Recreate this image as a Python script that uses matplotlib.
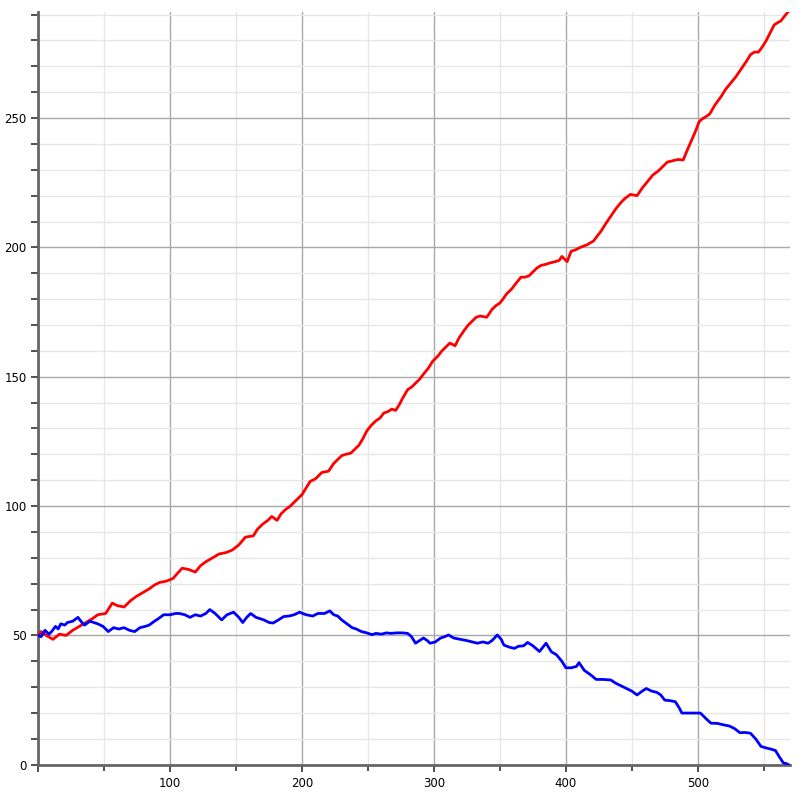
import matplotlib
matplotlib.use("Agg")
import matplotlib.pyplot as plt
from matplotlib.ticker import MultipleLocator

# red series
red_x = [0, 2, 6, 11, 16, 21, 26, 31, 36, 41, 45, 51, 56, 60, 65, 70, 74, 79, 84, 88,
         92, 97, 102, 109, 114, 119, 123, 127, 132, 137, 142, 147, 152, 157, 163, 166,
         170, 174, 177, 181, 184, 187, 191, 195, 200, 203, 206, 210, 215, 220, 224, 227,
         230, 233, 237, 240, 243, 246, 249, 252, 256, 259, 262, 265, 268, 271, 274, 276,
         280, 283, 286, 289, 292, 296, 299, 303, 306, 309, 312, 316, 319, 323, 326, 329,
         332, 335, 340, 344, 347, 350, 353, 355, 359, 362, 366, 369, 372, 375, 378, 381,
         385, 388, 392, 395, 397, 401, 404, 407, 411, 416, 421, 424, 427, 430, 434, 438,
         442, 445, 449, 454, 458, 462, 466, 470, 474, 477, 481, 485, 489, 492, 495, 498,
         501, 503, 506, 509, 513, 518, 521, 525, 529, 533, 537, 540, 543, 546, 549, 552,
         555, 558, 561, 563, 566, 570]
red_y = [50, 51.5, 50, 48.5, 50.5, 50, 52, 53.5, 55, 56.5, 58, 58.5, 62.5, 61.5, 61, 63.5,
         65, 66.5, 68, 69.5, 70.5, 71, 72, 76, 75.5, 74.5, 77, 78.5, 80, 81.5, 82, 83, 85,
         88, 88.5, 91, 93, 94.5, 96, 94.5, 97, 98.5, 100, 102, 104.5, 107, 109.5, 110.5,
         113, 113.5, 116.5, 118, 119.5, 120, 120.5, 122, 123.5, 126, 129, 131, 133, 134,
         136, 136.5, 137.5, 137, 139.5, 141.5, 145, 146, 147.5, 149, 151, 153.5, 156, 158,
         160, 161.5, 163, 162, 165, 168, 170, 171.5, 173, 173.5, 173, 176, 177.5, 178.5,
         180.5, 182, 184, 186, 188.5, 188.5, 189, 190.5, 192, 193, 193.5, 194, 194.5, 195,
         196.5, 194.5, 198.5, 199, 200, 201, 202.5, 204.5, 206.5, 209, 212, 215, 217.5,
         219, 220.5, 220, 223, 225.5, 228, 229.5, 231.5, 233, 233.5, 234, 233.8, 237.5,
         241, 244.5, 248.5, 249.5, 250.5, 251.5, 255, 258.5, 261, 263.5, 266, 269, 272,
         274.5, 275.5, 275.5, 277.5, 280, 283, 286, 287, 287.5, 289.5, 292]

# blue series
blue_x = [0, 2, 5, 8, 10, 13, 15, 17, 20, 22, 26, 30, 33, 35, 39, 42, 45, 49, 53, 57, 61,
          65, 69, 73, 77, 81, 84, 88, 91, 95, 100, 104, 107, 111, 115, 119, 123, 127, 130,
          134, 139, 143, 148, 152, 155, 158, 161, 165, 171, 175, 178, 182, 186, 190, 194,
          198, 203, 208, 212, 217, 221, 224, 227, 230, 234, 238, 241, 245, 249, 253, 256,
          260, 264, 267, 272, 276, 280, 283, 286, 289, 292, 295, 297, 301, 305, 308, 311,
          315, 320, 325, 329, 333, 337, 341, 344, 348, 351, 353, 357, 361, 364, 368, 371,
          375, 380, 385, 389, 393, 397, 400, 404, 408, 410, 414, 419, 423, 428, 434, 438,
          442, 446, 450, 454, 458, 461, 465, 469, 472, 475, 479, 483, 486, 488, 494, 502,
          506, 510, 515, 520, 524, 528, 532, 536, 540, 544, 548, 552, 556, 559, 562, 565,
          567, 569]
blue_y = [50, 49.5, 52, 50.5, 51.5, 53.5, 52.5, 54.5, 54, 55, 55.5, 57, 55, 54, 55.5, 55,
          54.5, 53.5, 51.5, 53, 52.5, 53, 52, 51.5, 53, 53.5, 54, 55.5, 56.5, 58, 58, 58.5,
          58.5, 58, 57, 58, 57.5, 58.5, 60, 58.5, 56, 58, 59, 57, 55, 57, 58.5, 57, 56, 55,
          54.8, 56, 57.3, 57.5, 58, 59, 58, 57.5, 58.5, 58.5, 59.5, 58, 57.5, 56, 54.5, 53,
          52.5, 51.5, 51, 50.3, 50.8, 50.5, 51, 50.8, 51, 51, 50.8, 49.5, 47, 48, 49, 48,
          47, 47.5, 49, 49.5, 50.2, 49, 48.5, 48, 47.5, 47, 47.5, 47, 48, 50.2, 48.5, 46.3,
          45.5, 45, 45.8, 46, 47.3, 46, 43.8, 47, 43.7, 42.5, 40, 37.5, 37.5, 38, 39.5,
          36.5, 34.7, 33, 33, 32.8, 31.5, 30.5, 29.5, 28.5, 27, 28.5, 29.5, 28.5, 28, 27,
          25, 24.8, 24.4, 22, 20, 20, 20, 18, 16.1, 16, 15.4, 15, 14, 12.4, 12.5, 12.2, 10,
          7.1, 6.5, 6, 5.5, 3, 0.7, 0.5, 0]

fig = plt.figure(figsize=(8, 8), dpi=100)
ax = fig.add_axes([0.048, 0.044, 0.9395, 0.941])

ax.plot(red_x, red_y, color='#ff0000', linewidth=2.0, zorder=3)
ax.plot(blue_x, blue_y, color='#0000ff', linewidth=2.0, zorder=3)

ax.set_xlim(0, 570)
ax.set_ylim(0, 291)

ax.xaxis.set_major_locator(MultipleLocator(100))
ax.xaxis.set_minor_locator(MultipleLocator(50))
ax.yaxis.set_major_locator(MultipleLocator(50))
ax.yaxis.set_minor_locator(MultipleLocator(10))

ax.grid(which='major', color='#a8a8a8', linewidth=1.0, zorder=1)
ax.grid(which='minor', color='#e6e6e6', linewidth=1.0, zorder=0)

for s in ['top', 'right']:
    ax.spines[s].set_visible(False)
for s in ['left', 'bottom']:
    ax.spines[s].set_color('#666666')
    ax.spines[s].set_linewidth(2.0)

ax.tick_params(which='both', direction='out', color='#333333', width=1.2)
ax.tick_params(which='major', length=5, labelsize=8.5)
ax.tick_params(axis='y', which='minor', length=5)
ax.tick_params(axis='x', which='minor', length=4)
ax.set_xticklabels(['' if t <= 0 else str(int(t)) for t in ax.get_xticks()])

fig.savefig('out.png', dpi=100)
